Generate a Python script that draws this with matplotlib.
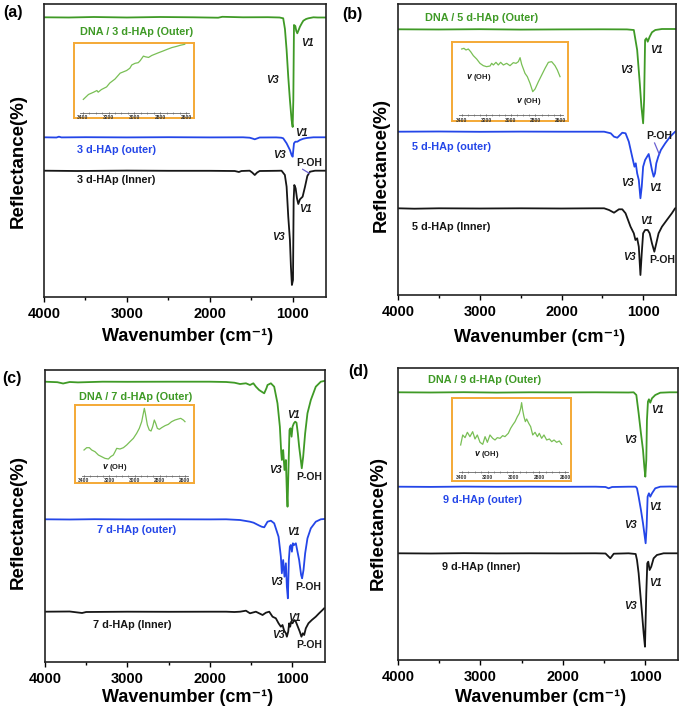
import matplotlib
matplotlib.use("Agg")
import matplotlib.pyplot as plt
from matplotlib.ticker import MultipleLocator

plt.rcParams['font.family'] = ['Liberation Sans', 'DejaVu Sans']
plt.rcParams['font.weight'] = 'bold'

W, H = 685, 718

GREEN = '#3f9a26'
BLUE = '#2446e8'
BLACK = '#161616'
ORANGE = '#f4a936'
INSET_GREEN = '#79bf55'
POINTER = '#6a5fd0'

# ---------------- panel (a) ----------------
a_green_wn = [4000, 3700, 3400, 3000, 2600, 2200, 1900, 1850, 1600, 1300, 1160, 1116, 1095, 1075,
              1055, 1035, 1015, 1002, 994, 986, 970, 958, 946, 930, 914, 890, 873, 840, 813, 752,
              700, 600]
a_green = [279.7, 279.5, 280, 279.5, 280, 279.7, 279.3, 280.2, 279.7, 279.8, 279.5, 278.7, 268, 247,
           220, 197, 177, 170, 197, 272, 271, 266, 263.7, 267, 270.3, 274, 276.3, 278, 278.7, 279.7,
           279.5, 279.5]
a_blue_wn = [4000, 3850, 3820, 3790, 3500, 3000, 2500, 2000, 1600, 1520, 1480, 1459, 1430, 1400,
             1200, 1140, 1116, 1075, 1035, 1015, 1002, 986, 970, 946, 914, 873, 833, 752, 600]
a_blue = [159.7, 159.5, 160.3, 159.6, 159.8, 159.6, 159.8, 159.6, 159.7, 159.3, 158.3, 157.7, 158.6,
          159.5, 159.6, 159.3, 158.7, 153.7, 147, 142, 140.3, 153.7, 155.3, 155.3, 157, 158.3, 159,
          159.7, 159.7]
a_black_wn = [4000, 3600, 3000, 2500, 2000, 1700, 1650, 1620, 1520, 1490, 1459, 1430, 1400, 1200,
              1136, 1096, 1075, 1055, 1035, 1023, 1011, 998, 990, 982, 966, 950, 934, 914, 882, 853,
              825, 793, 732, 600]
a_black = [126.3, 126.0, 126.4, 126.2, 126.2, 126.0, 125.0, 126.0, 126.3, 124.5, 122, 124.5, 126,
           126.2, 126.3, 122, 110.3, 80.3, 57, 30.3, 12, 17, 97, 112, 108.7, 98.7, 93, 97.7, 100.3,
           110.3, 121, 125.3, 126.3, 126.3]
a_inset_wn = [3395, 3355, 3315, 3290, 3280, 3255, 3215, 3190, 3150, 3110, 3085, 3060, 3035, 3020,
              2995, 2970, 2955, 2930, 2915, 2890, 2865, 2840, 2815, 2775, 2750, 2710, 2670, 2645, 2610]
a_inset = [40, 55, 62, 67, 62, 70, 78, 90, 102, 120, 124, 128, 135, 145, 150, 152, 158, 172, 170, 168,
           174, 178, 182, 188, 192, 198, 202, 205, 208]

# ---------------- panel (b) ----------------
b_green_wn = [4000, 3500, 3000, 2500, 2000, 1500, 1200, 1116, 1075, 1043, 1023, 1002, 990, 978, 962,
              946, 922, 894, 853, 772, 600]
b_green = [265.7, 265.5, 265.8, 265.4, 265.6, 265.7, 265.6, 265, 245, 211.7, 188.3, 171.7, 195, 255,
           256.7, 253.3, 258.3, 262.7, 265, 266, 266]
b_blue_wn = [4000, 3500, 3000, 2500, 2000, 1600, 1479, 1398, 1358, 1318, 1285, 1257, 1217, 1177, 1136,
             1108, 1092, 1075, 1055, 1035, 1019, 1002, 978, 954, 934, 914, 894, 873, 857, 841, 817,
             785, 732, 672, 611, 600]
b_blue = [163.3, 163.5, 163.2, 163.4, 163.3, 163.3, 163.3, 161.7, 158.3, 157.3, 160, 162.3, 161.7,
          153.3, 138.3, 128.3, 131.7, 121.7, 115, 96.7, 108.3, 128.3, 135, 138.3, 141, 133.3, 125,
          118.3, 121.7, 131.7, 138.3, 145, 151.7, 158.3, 163.3, 163.5]
b_black_wn = [4000, 3800, 3500, 3000, 2500, 2000, 1600, 1479, 1419, 1358, 1298, 1257, 1217, 1156, 1116,
              1096, 1075, 1055, 1035, 1019, 1002, 978, 946, 922, 894, 865, 841, 813, 772, 712, 651,
              611, 600]
b_black = [86.7, 86.3, 86.7, 86.5, 86.7, 86.5, 86.7, 86.7, 85, 82.3, 85.7, 85.7, 81.7, 68.3, 61.7, 55,
           56.7, 48.3, 20, 41.7, 61.7, 65, 65, 61.7, 51.7, 43.3, 51.7, 61.7, 68.3, 75, 81.7, 86.7, 87]
b_inset_wn = [3400, 3381, 3365, 3346, 3327, 3305, 3278, 3251, 3224, 3197, 3169, 3156, 3142, 3121, 3102,
              3083, 3061, 3034, 3007, 2980, 2958, 2939, 2925, 2912, 2885, 2866, 2844, 2822, 2803,
              2776, 2749, 2722, 2695, 2668, 2641, 2622, 2600]
b_inset = [198, 200, 195, 198, 190, 178, 168, 155, 148, 145, 147, 155, 150, 158, 150, 158, 150, 155,
           148, 157, 155, 160, 172, 152, 125, 115, 95, 70, 78, 100, 120, 140, 158, 160, 148, 135, 115]

# ---------------- panel (c) ----------------
c_green_wn = [4000, 3850, 3780, 3700, 3600, 3300, 3000, 2500, 2000, 1800, 1700, 1632, 1560, 1511, 1470,
              1439, 1400, 1369, 1338, 1310, 1298, 1257, 1217, 1177, 1148, 1132, 1124, 1116, 1108, 1092,
              1075, 1063, 1055, 1043, 1031, 1019, 1006, 994, 978, 962, 946, 930, 914, 894, 882, 865,
              841, 813, 772, 712, 651, 610]
c_green = [280.3, 279.8, 278.5, 280, 279.6, 280.3, 280.2, 280.3, 280.3, 280.0, 279.3, 278, 278.7, 277,
           278.7, 275.3, 272, 270.3, 268.7, 274, 277, 278.7, 275.3, 258.7, 235.3, 210, 202, 208, 212,
           192, 202, 168.7, 155.3, 195.3, 232, 233.7, 225.3, 235.3, 238.7, 240.3, 239.3, 228.7, 215.3,
           202, 193.7, 205.3, 228.7, 248.7, 262, 275.3, 280.3, 281]
c_blue_wn = [4000, 3700, 3400, 3000, 2500, 2000, 1800, 1632, 1511, 1467, 1400, 1369, 1338, 1298, 1257,
             1217, 1164, 1136, 1124, 1108, 1092, 1075, 1063, 1051, 1039, 1027, 1015, 1002, 990, 974,
             954, 934, 914, 890, 878, 861, 841, 813, 772, 712, 651, 610]
c_blue = [142.7, 142.5, 142.8, 142.6, 142.7, 142.6, 142.7, 142, 140.3, 139.3, 136.5, 135.3, 134.7,
          140.3, 141.3, 138.7, 125.3, 105.3, 88.7, 102, 85.3, 98.7, 75.3, 63.7, 102, 115.3, 117, 110.3,
          118.7, 117, 118.7, 110.3, 102, 87, 83.7, 92, 108.7, 123.7, 133.7, 140.3, 142.7, 143]
c_black_wn = [4000, 3700, 3600, 3550, 3500, 3000, 2500, 2000, 1800, 1700, 1632, 1560, 1511, 1439, 1358,
              1318, 1277, 1237, 1197, 1164, 1136, 1116, 1096, 1075, 1063, 1047, 1035, 1023, 1011, 994,
              974, 954, 930, 906, 886, 869, 853, 833, 801, 760, 712, 672, 639, 610]
c_black = [50.3, 50.5, 49.5, 49.0, 50.0, 50.3, 50.2, 50.3, 50.3, 50.0, 50.3, 51.3, 48.7, 50.3, 47,
           49.3, 50.3, 45.3, 43.7, 38.7, 35.3, 37, 31.3, 28.7, 25.3, 30.3, 38.7, 35.3, 40.3, 38.7, 42,
           40.3, 35.3, 30.3, 25.3, 28.7, 27, 33.7, 38.7, 42, 45.3, 48.7, 51.3, 53.7]
c_inset_wn = [3400, 3379, 3358, 3339, 3313, 3286, 3260, 3234, 3207, 3189, 3168, 3154, 3141, 3115, 3088,
              3062, 3036, 3009, 2983, 2962, 2943, 2930, 2922, 2914, 2898, 2883, 2869, 2856, 2843,
              2832, 2819, 2803, 2785, 2758, 2732, 2706, 2679, 2653, 2634, 2613, 2600]
c_inset = [77, 84, 84, 77, 72, 62, 57, 52, 50, 57, 62, 72, 82, 80, 84, 92, 102, 112, 127, 142, 162,
           187, 202, 187, 152, 137, 134, 147, 167, 157, 142, 139, 144, 150, 154, 162, 167, 170, 172,
           167, 162]

# ---------------- panel (d) ----------------
d_green_wn = [4000, 3600, 3200, 2800, 2400, 2000, 1600, 1200, 1139, 1106, 1078, 1050, 1025, 1009, 997,
              985, 977, 965, 953, 937, 916, 876, 815, 700, 600]
d_green = [267.7, 267.5, 267.8, 267.4, 267.7, 267.6, 267.7, 267.5, 267.7, 265, 246.7, 226.7, 210,
           193.3, 183.3, 200, 240, 258.3, 260.7, 257.3, 261.7, 265, 267.3, 267.7, 267.7]
d_blue_wn = [4000, 3600, 3200, 2800, 2400, 2000, 1600, 1480, 1442, 1400, 1200, 1114, 1098, 1078, 1050,
             1025, 1009, 993, 981, 969, 953, 937, 916, 876, 815, 700, 600]
d_blue = [173.3, 173.1, 173.4, 173.2, 173.3, 173.2, 173.3, 173, 171.7, 173, 173.3, 173.3, 171.7, 163.3,
          150, 136.7, 126.7, 116.7, 133.3, 163.3, 166.7, 163.3, 166.7, 171.7, 173.3, 173.5, 173.3]
d_black_wn = [4000, 3600, 3200, 2800, 2400, 2000, 1600, 1480, 1422, 1380, 1200, 1114, 1098, 1078, 1058,
              1037, 1017, 1001, 985, 973, 961, 945, 925, 896, 856, 775, 600]
d_black = [106.7, 106.5, 106.8, 106.6, 106.7, 106.6, 106.7, 106.5, 101.7, 106.3, 106.7, 106, 100, 86.7,
           66.7, 46.7, 26.7, 13.3, 66.7, 96.7, 98.3, 90, 93.3, 101.7, 105, 106.7, 106.7]
d_inset_wn = [3408, 3392, 3374, 3356, 3336, 3315, 3297, 3279, 3258, 3237, 3219, 3201, 3181, 3160, 3142,
              3124, 3103, 3083, 3065, 3039, 3021, 3005, 2987, 2969, 2954, 2943, 2936, 2928, 2918,
              2907, 2897, 2881, 2866, 2850, 2832, 2814, 2799, 2781, 2763, 2742, 2721, 2703, 2685,
              2665, 2644, 2626]
d_inset = [82, 112, 104, 120, 107, 122, 100, 112, 90, 84, 107, 90, 112, 102, 97, 104, 102, 110, 107,
           117, 132, 142, 152, 167, 177, 192, 209, 187, 167, 152, 160, 147, 137, 112, 120, 107, 117,
           102, 112, 97, 100, 92, 97, 90, 94, 84]

x_ticks = [4000, 3000, 2000, 1000]
inset_ticks = [3400, 3200, 3000, 2800, 2600]


def px_rect(l, t, r, b):
    return [l / W, 1 - b / H, (r - l) / W, (b - t) / H]


fig = plt.figure(figsize=(W / 100, H / 100), dpi=100)

panels = [
    dict(letter='(a)', rect=(44, 4, 326, 297), letter_xy=(3, 13), ylab=(-0.09, 0.464), xlab_y=-0.135,
         lines=[(a_green_wn, a_green, GREEN), (a_blue_wn, a_blue, BLUE), (a_black_wn, a_black, BLACK)],
         names=[('DNA / 3 d-HAp (Outer)', 3567, 265, GREEN), ('3 d-HAp (outer)', 3603, 147, BLUE),
                ('3 d-HAp (Inner)', 3603, 117, BLACK)],
         peaks=[('V1', 829, 254), ('V3', 1251, 217), ('V1', 902, 164), ('V3', 1167, 142),
                ('V1', 853, 88), ('V3', 1179, 60)],
         poh=[(805, 134)], pointer=[(881, 127.7, 801, 123.7)],
         frame=(74, 43, 194, 118), inner=(80.1, 43, 188.6, 112.5), inset=(a_inset_wn, a_inset, 212),
         oh=[]),
    dict(letter='(b)', rect=(398, 4, 676, 295), letter_xy=(342, 15), ylab=(-0.06, 0.447), xlab_y=-0.145,
         lines=[(b_green_wn, b_green, GREEN), (b_blue_wn, b_blue, BLUE), (b_black_wn, b_black, BLACK)],
         names=[('DNA / 5 d-HAp (Outer)', 3670, 276.7, GREEN), ('5 d-HAp (outer)', 3829, 148.3, BLUE),
                ('5 d-HAp (Inner)', 3829, 68.3, BLACK)],
         peaks=[('V1', 845, 245), ('V3', 1212, 225), ('V3', 1193, 112), ('V1', 857, 107),
                ('V1', 958, 74.3), ('V3', 1175, 38.3)],
         poh=[(799, 159), (765, 35)], pointer=[(862, 152, 806, 141)],
         frame=(452, 42, 568, 121), inner=(459.2, 42, 562.5, 115), inset=(b_inset_wn, b_inset, 219),
         oh=[(3264, 112), (2858, 40)]),
    dict(letter='(c)', rect=(45, 370, 325, 662), letter_xy=(2, 378), ylab=(-0.094, 0.479), xlab_y=-0.122,
         lines=[(c_green_wn, c_green, GREEN), (c_blue_wn, c_blue, BLUE), (c_black_wn, c_black, BLACK)],
         names=[('DNA / 7 d-HAp (Outer)', 3586, 265.3, GREEN), ('7 d-HAp (outer)', 3368, 132, BLUE),
                ('7 d-HAp (Inner)', 3417, 37, BLACK)],
         peaks=[('V1', 985, 247), ('V3', 1197, 192), ('V1', 985, 130.3), ('V3', 1186, 80.3),
                ('V1', 976, 43.7), ('V3', 1167, 27)],
         poh=[(788, 184.7), (806, 75.3), (794, 17)], pointer=[],
         frame=(75, 405, 194, 483), inner=(81.5, 405, 187.5, 475.7), inset=(c_inset_wn, c_inset, 212),
         oh=[(3154, 24)]),
    dict(letter='(d)', rect=(398, 368, 678, 660), letter_xy=(348, 372), ylab=(-0.07, 0.469), xlab_y=-0.13,
         lines=[(d_green_wn, d_green, GREEN), (d_blue_wn, d_blue, BLUE), (d_black_wn, d_black, BLACK)],
         names=[('DNA / 9 d-HAp (Outer)', 3635, 280, GREEN), ('9 d-HAp (outer)', 3453, 160, BLUE),
                ('9 d-HAp (Inner)', 3465, 93.3, BLACK)],
         peaks=[('V1', 849, 250), ('V3', 1173, 220), ('V1', 870, 153.3), ('V3', 1173, 135),
                ('V1', 870, 76.7), ('V3', 1173, 54)],
         poh=[], pointer=[],
         frame=(452, 398, 571, 481), inner=(459.1, 398, 567.6, 472.3), inset=(d_inset_wn, d_inset, 223),
         oh=[(3206, 54)]),
]

for p in panels:
    l, t, r, b = p['rect']
    ax = fig.add_axes(px_rect(l, t, r, b))
    for wn, val, col in p['lines']:
        ax.plot(wn, val, color=col, lw=1.3, solid_joinstyle='round')
    ax.set_xlim(4000, 600)
    ax.set_ylim(0, b - t)
    ax.set_yticks([])
    ax.set_xticks(x_ticks)
    ax.xaxis.set_minor_locator(MultipleLocator(500))
    ax.tick_params(axis='x', which='major', direction='out', length=3.5, width=1.0,
                   labelsize=10.5, pad=3.5)
    ax.tick_params(axis='x', which='minor', direction='out', length=2.5, width=1.0)
    for lab in ax.get_xticklabels():
        lab.set_fontweight('bold')
    for s in ax.spines.values():
        s.set_linewidth(1.2)
        s.set_color('#222222')
    ax.set_xlabel('Wavenumber (cm\u207b\u00b9)', fontsize=13, fontweight='bold', va='center')
    ax.xaxis.set_label_coords(0.51, p['xlab_y'])
    ax.set_ylabel('Reflectance(%)', fontsize=13.5, fontweight='bold', va='center')
    ax.yaxis.set_label_coords(p['ylab'][0], p['ylab'][1])

    for name, x, y, col in p['names']:
        ax.text(x, y, name, color=col, fontsize=7.8, fontweight='bold', ha='left', va='center')
    for lab, x, y in p['peaks']:
        ax.text(x, y, lab, fontsize=7.5, fontweight='bold', fontstyle='italic', ha='center',
                va='center', color='#1a1a1a')
    for x, y in p['poh']:
        ax.text(x, y, 'P-OH', fontsize=7.5, fontweight='bold', ha='center', va='center',
                color='#1a1a1a')
    for x0, y0, x1, y1 in p['pointer']:
        ax.plot([x0, x1], [y0, y1], color=POINTER, lw=0.9)

    fig.text(p['letter_xy'][0] / W, 1 - p['letter_xy'][1] / H, p['letter'], fontsize=11.5,
             fontweight='bold', ha='left', va='center')

    # inset frame
    fax = fig.add_axes(px_rect(*p['frame']))
    fax.set_xticks([])
    fax.set_yticks([])
    for s in fax.spines.values():
        s.set_color(ORANGE)
        s.set_linewidth(1.4)

    iwn, ival, itop = p['inset']
    iax = fig.add_axes(px_rect(*p['inner']))
    iax.patch.set_alpha(0)
    iax.plot(iwn, ival, color=INSET_GREEN, lw=0.9)
    iax.set_xlim(3420, 2580)
    iax.set_ylim(0, itop)
    for side in ['top', 'right', 'left']:
        iax.spines[side].set_visible(False)
    iax.spines['bottom'].set_color('#666666')
    iax.spines['bottom'].set_linewidth(0.6)
    iax.set_yticks([])
    iax.set_xticks(inset_ticks)
    iax.xaxis.set_minor_locator(MultipleLocator(50))
    iax.tick_params(axis='x', which='major', direction='inout', length=2, width=0.5,
                    labelsize=3.6, pad=0.8, colors='#333333')
    iax.tick_params(axis='x', which='minor', direction='inout', length=1.2, width=0.4,
                    colors='#555555')
    for x, y in p['oh']:
        iax.text(x, y, '$\\mathit{v}$ (OH)', fontsize=5.5, fontweight='bold', ha='center',
                 va='center', color='#1a1a1a')

fig.savefig('out.png', dpi=100)
